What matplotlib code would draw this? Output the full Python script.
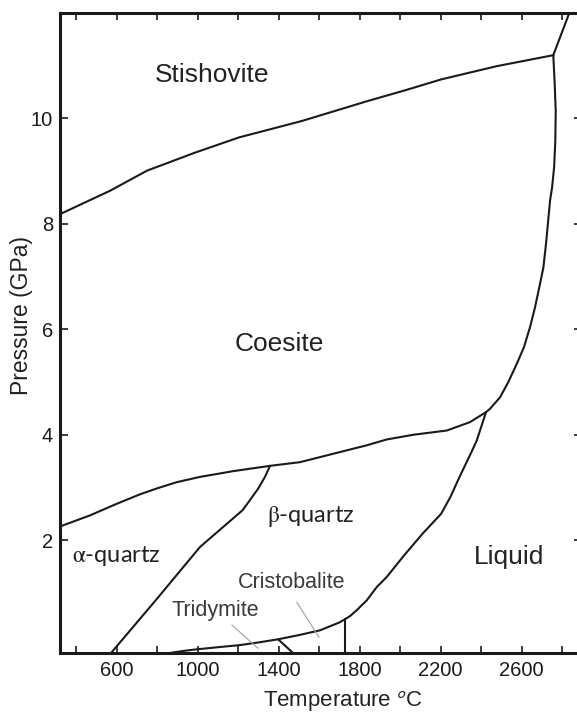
import numpy as np
import matplotlib
matplotlib.use("Agg")
import matplotlib.pyplot as plt

plt.rcParams['font.family'] = ['Liberation Sans', 'DejaVu Sans']
plt.rcParams['mathtext.fontset'] = 'stix'

# phase boundaries, temperature in C, pressure in GPa
stish_coes_T = [323, 568, 750, 986, 1204, 1513, 1839, 2021, 2202, 2475, 2756]
stish_coes_P = [8.19, 8.63, 9.01, 9.35, 9.64, 9.95, 10.33, 10.53, 10.74, 10.99, 11.20]

stish_liq_T = [2756, 2835]
stish_liq_P = [11.20, 12.00]

coes_liq_T = [2756, 2763, 2768, 2766, 2760, 2750, 2740, 2731, 2720, 2707, 2687,
              2666, 2641, 2611, 2575, 2534, 2493, 2443, 2424]
coes_liq_P = [11.20, 10.65, 10.14, 9.57, 9.07, 8.69, 8.44, 8.07, 7.62, 7.17, 6.80,
              6.42, 6.04, 5.66, 5.34, 5.00, 4.71, 4.49, 4.43]

coes_qtz_T = [320, 468, 600, 715, 797, 896, 1011, 1176, 1357, 1505, 1670, 1835,
              1933, 2065, 2230, 2345, 2424]
coes_qtz_P = [2.26, 2.47, 2.69, 2.87, 2.98, 3.10, 3.20, 3.31, 3.41, 3.48, 3.64, 3.80,
              3.91, 4.00, 4.08, 4.24, 4.43]

a_b_qtz_T = [1357, 1332, 1299, 1258, 1222, 1011, 797, 572]
a_b_qtz_P = [3.41, 3.20, 2.98, 2.76, 2.57, 1.87, 0.88, -0.14]

bqtz_liq_T = [2424, 2394, 2378, 2348, 2293, 2248, 2202, 2112, 2021, 1933, 1884,
              1835, 1785, 1752, 1727]
bqtz_liq_P = [4.43, 4.08, 3.89, 3.64, 3.20, 2.82, 2.50, 2.13, 1.72, 1.30, 1.11,
              0.86, 0.67, 0.56, 0.50]

crist_liq_T = [1727, 1727]
crist_liq_P = [0.50, -0.14]

trid_top_T = [1727, 1700, 1668, 1604, 1500, 1397, 1300, 1209, 1100, 996, 930, 863]
trid_top_P = [0.50, 0.44, 0.39, 0.29, 0.20, 0.12, 0.06, 0.01, -0.03, -0.07, -0.10, -0.14]

trid_crist_T = [1397, 1471]
trid_crist_P = [0.12, -0.14]

# leader lines for the small fields
trid_ptr_T = [1169, 1298]
trid_ptr_P = [0.39, -0.05]
crist_ptr_T = [1490, 1599]
crist_ptr_P = [0.82, 0.16]

x_ticks = [400, 600, 800, 1000, 1200, 1400, 1600, 1800, 2000, 2200, 2400, 2600, 2800]
x_labels = ['', '600', '', '1000', '', '1400', '', '1800', '', '2200', '', '2600', '']
y_ticks = [2, 4, 6, 8, 10]

fig = plt.figure(figsize=(5.77, 7.13), dpi=100)
# right spine sits just past the image edge
ax = fig.add_axes([60 / 577, 1 - 653 / 713, 522 / 577, 640 / 713])
ax.set_xlim(320, 320 + 522 / 0.2025)
ax.set_ylim(-0.14, 12)

lc = '#1a1a1a'
for T, P in [(stish_coes_T, stish_coes_P), (stish_liq_T, stish_liq_P),
             (coes_liq_T, coes_liq_P), (coes_qtz_T, coes_qtz_P),
             (a_b_qtz_T, a_b_qtz_P), (bqtz_liq_T, bqtz_liq_P),
             (crist_liq_T, crist_liq_P), (trid_top_T, trid_top_P),
             (trid_crist_T, trid_crist_P)]:
    ax.plot(T, P, color=lc, lw=1.5, solid_joinstyle='round', solid_capstyle='round')

ax.plot(trid_ptr_T, trid_ptr_P, color='#a0a0a0', lw=0.8)
ax.plot(crist_ptr_T, crist_ptr_P, color='#a0a0a0', lw=0.8)

tc = '#222222'
ax.text(1071, 10.82, 'Stishovite', fontsize=19, ha='center', va='center', color=tc)
ax.text(1401, 5.73, 'Coesite', fontsize=19, ha='center', va='center', color=tc)
ax.text(2537, 1.68, 'Liquid', fontsize=19, ha='center', va='center', color=tc)
ax.text(597, 1.70, r'$\mathrm{\alpha}$-quartz', fontsize=17, ha='center', va='center',
        color=tc, family=['Lato', 'DejaVu Sans'])
ax.text(1560, 2.45, r'$\mathrm{\beta}$-quartz', fontsize=17, ha='center', va='center',
        color=tc, family=['Lato', 'DejaVu Sans'])
ax.text(1466, 1.20, 'Cristobalite', fontsize=15.5, ha='center', va='center', color='#3a3a3a')
ax.text(1085, 0.67, 'Tridymite', fontsize=15.5, ha='center', va='center', color='#3a3a3a')

ax.set_xticks(x_ticks)
ax.set_xticklabels(x_labels)
ax.set_yticks(y_ticks)
ax.tick_params(direction='in', top=True, right=True, length=6, width=1.2,
               labelsize=14.5, pad=5, colors=lc)
ax.tick_params(axis='x', length=5, pad=6)
ax.tick_params(axis='y', which='major', right=True, labelright=False)
for s in ax.spines.values():
    s.set_linewidth(2.2)
    s.set_color(lc)
ax.spines['right'].set_visible(False)

fig.text(343 / 577, 1 - 702 / 713, r'Temperature $^{\mathsf{o}}$C', fontsize=16,
         ha='center', va='center', color=tc)
fig.text(22 / 577, 1 - 315 / 713, 'Pressure (GPa)', fontsize=16.5, rotation=90,
         ha='center', va='center', color=tc)

fig.savefig('out.png', dpi=100)
